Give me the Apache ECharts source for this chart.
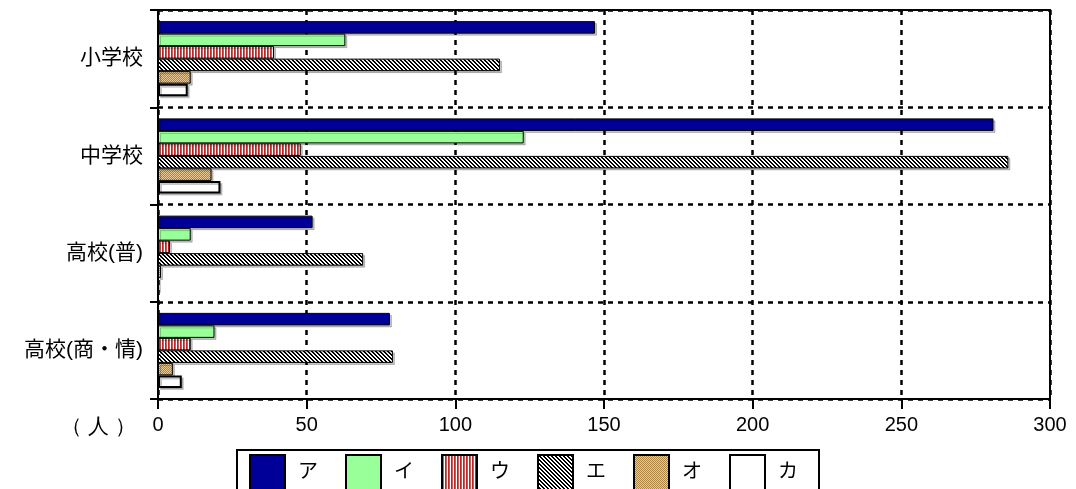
<!DOCTYPE html>
<html>
<head>
<meta charset="utf-8">
<script src="https://cdn.jsdelivr.net/npm/echarts@6/dist/echarts.min.js"></script>
<style>
html,body{margin:0;padding:0;background:#fff;}
#chart{width:1076px;height:489px;}
</style>
</head>
<body>
<div id="chart"></div>
<script>
// ---- data ----
const categories = ['小学校', '中学校', '高校(普)', '高校(商・情)'];
const seriesNames = ['ア', 'イ', 'ウ', 'エ', 'オ', 'カ'];
const valuesA  = [147, 281, 52, 78];
const valuesI  = [63, 123, 11, 19];
const valuesU  = [39, 48, 4, 11];
const valuesE  = [115, 286, 69, 79];
const valuesO  = [11, 18, 1, 5];
const valuesKa = [10, 21, 0, 8];
const xMin = 0, xMax = 300, xInterval = 50;
const unitLabel = '（ 人 ）';

// ---- patterns ----
function makePattern(w, h, fn) {
  const c = document.createElement('canvas');
  c.width = w; c.height = h;
  const ctx = c.getContext('2d');
  for (let y = 0; y < h; y++) for (let x = 0; x < w; x++) {
    ctx.fillStyle = fn(x, y);
    ctx.fillRect(x, y, 1, 1);
  }
  return c;
}
const stripeU = makePattern(3, 1, (x) => ['#b22a2a', '#d05a5a', '#ffffff'][x]);
const hatchE = makePattern(4, 4, (x, y) => ((((x - y) % 4) + 4) % 4) < 2 ? '#000000' : '#ffffff');
const dotsO = makePattern(2, 2, (x, y) => ((x + y) % 2 === 0) ? '#e8c894' : '#ad8442');

const fills = [
  '#000099',
  '#99ff99',
  { image: stripeU, repeat: 'repeat' },
  { image: hatchE, repeat: 'repeat' },
  { image: dotsO, repeat: 'repeat' },
  '#ffffff'
];
const seriesValues = [valuesA, valuesI, valuesU, valuesE, valuesO, valuesKa];

const FONT = "'Liberation Sans', Arial, 'Noto Sans CJK JP', sans-serif";

const chart = echarts.init(document.getElementById('chart'), null, { renderer: 'canvas' });

const series = seriesNames.map((name, i) => ({
  name: name,
  type: 'bar',
  data: seriesValues[i],
  barWidth: 12.5,
  barGap: '0%',
  itemStyle: {
    color: fills[i],
    borderColor: '#000',
    borderWidth: i === 5 ? 2 : 1,
    shadowColor: 'rgba(0,0,0,0.22)',
    shadowOffsetX: 2,
    shadowOffsetY: 2,
    shadowBlur: 0
  },
  emphasis: { disabled: true },
  animation: false
}));

chart.setOption({
  animation: false,
  backgroundColor: '#fff',
  textStyle: { fontFamily: FONT, color: '#000' },
  grid: {
    left: 158, right: 26, top: 10, bottom: 90,
    show: true, borderColor: '#000', borderWidth: 2, backgroundColor: 'transparent'
  },
  legend: {
    data: seriesNames,
    left: 237, top: 450,
    orient: 'horizontal',
    icon: 'rect',
    itemWidth: 35, itemHeight: 35, itemGap: 27,
    padding: [4, 21, 10, 12],
    borderColor: '#000', borderWidth: 2,
    textStyle: { fontSize: 20, color: '#000', fontFamily: FONT, padding: [0, 0, 0, 8] },
    selectedMode: false
  },
  xAxis: {
    type: 'value',
    min: xMin, max: xMax, interval: xInterval,
    axisLine: { show: true, lineStyle: { color: '#000', width: 2 } },
    axisTick: { show: true, length: 10, lineStyle: { color: '#000', width: 2 } },
    axisLabel: { fontSize: 20, color: '#000', margin: 16, fontFamily: FONT },
    splitLine: { show: true, lineStyle: { color: '#000', width: 2.5, type: [5, 5] } }
  },
  yAxis: {
    type: 'category',
    data: categories,
    inverse: true,
    axisLine: { show: true, lineStyle: { color: '#000', width: 2 } },
    axisTick: { show: true, length: 8, lineStyle: { color: '#000', width: 2 } },
    axisLabel: { fontSize: 21, color: '#000', margin: 15, fontFamily: FONT },
    splitLine: { show: true, lineStyle: { color: '#000', width: 2.5, type: [5, 5] } }
  },
  graphic: [{
    type: 'text',
    left: 61, top: 417,
    style: { text: unitLabel, fontSize: 21, fill: '#000', font: '21px ' + FONT }
  }],
  series: series
});
</script>
</body>
</html>
